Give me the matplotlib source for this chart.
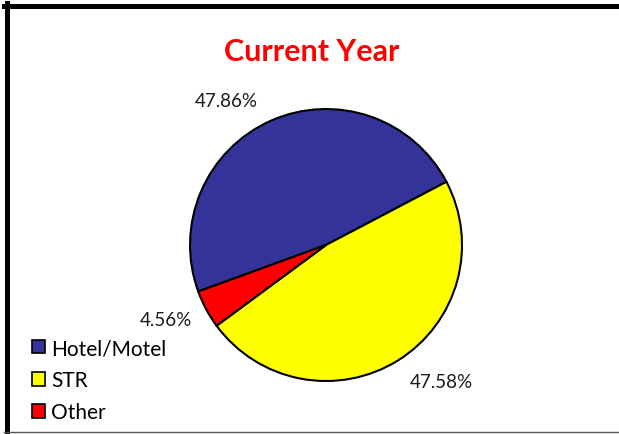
import matplotlib
matplotlib.use('Agg')
from matplotlib import pyplot as plt
from matplotlib.patches import Patch
from matplotlib.lines import Line2D

categories = ['Hotel/Motel', 'STR', 'Other']
shares = [47.86, 47.58, 4.56]
colors = ['#333399', '#FFFF00', '#FF0000']
title = 'Current Year'

plt.rcParams['font.family'] = ['Lato', 'DejaVu Sans']


def main():
  fig = plt.figure(figsize=(6.19, 4.35), dpi=100)
  fig.patch.set_facecolor('white')

  # pie area: centre about (326, 246) px, radius 136 px
  ax = fig.add_axes([0.307, 0.1218, 0.4394, 0.6253])
  wedges, texts, autotexts = ax.pie(
    shares, colors=colors, startangle=200, counterclock=False,
    autopct='%.2f%%', pctdistance=1.3,
    wedgeprops=dict(edgecolor='black', linewidth=1.5),
    textprops=dict(fontsize=13.5, color='#1a1a1a'))
  ax.set_xlim(-1, 1)
  ax.set_ylim(-1, 1)
  ax.set_aspect('equal')
  ax.axis('off')

  # Excel-like label placement (outside end)
  label_pos = [(-0.735, 1.066), (0.846, -1.0), (-1.176, -0.551)]
  for t, p in zip(autotexts, label_pos):
    t.set_position(p)
    t.set_ha('center')
    t.set_va('center')

  fig.text(0.503, 0.88, title, ha='center', va='center',
           fontsize=22, fontweight='bold', color='#FF0000')

  handles = [Patch(facecolor=c, edgecolor='black', linewidth=1.2) for c in colors]
  fig.legend(handles, categories, loc='lower left', bbox_to_anchor=(0.038, 0.008),
             frameon=False, fontsize=15, handlelength=0.62, handleheight=0.62,
             handletextpad=0.3, labelspacing=0.58, borderpad=0.2, borderaxespad=0.2)

  # chart frame
  fig.add_artist(Line2D([4 / 619, 1], [1 - 6.5 / 435, 1 - 6.5 / 435], color='black',
                        linewidth=3.6, transform=fig.transFigure))
  fig.add_artist(Line2D([6.5 / 619, 6.5 / 619], [1 - 4 / 435, 1 - 433 / 435], color='black',
                        linewidth=3.6, transform=fig.transFigure))
  fig.add_artist(Line2D([4 / 619, 1], [1 - 433 / 435, 1 - 433 / 435], color='#555555',
                        linewidth=1.0, transform=fig.transFigure))

  fig.savefig('out.png', dpi=100)
  plt.close()


if __name__ == '__main__':
  main()
